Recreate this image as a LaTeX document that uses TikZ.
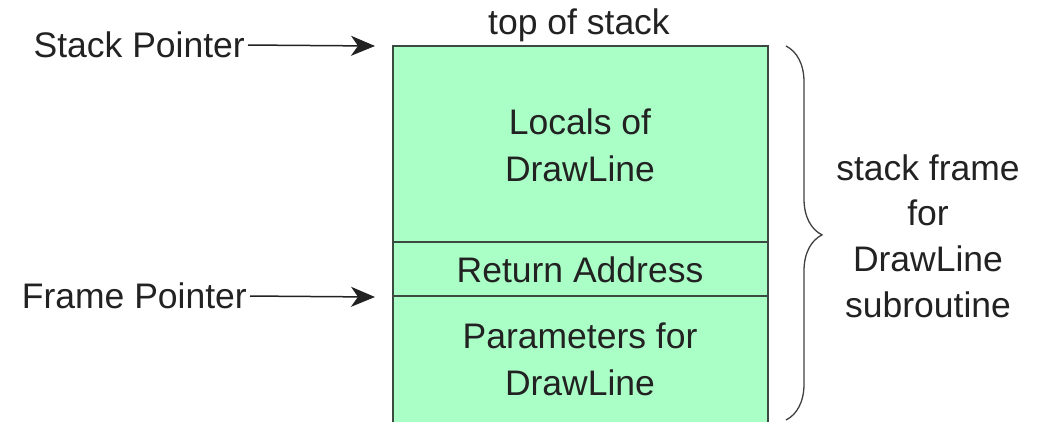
\documentclass[tikz,border=0pt]{standalone}
\usepackage{fontspec}
\setmainfont{Liberation Sans}
\usetikzlibrary{arrows.meta,decorations.pathreplacing}
\definecolor{cellfill}{HTML}{AAFFC6}
\definecolor{celledge}{HTML}{3A4A40}
\definecolor{ink}{HTML}{222222}
\tikzset{
  lbl/.style={font=\fontsize{35.5}{47}\selectfont, text=ink, inner sep=0pt, align=center},
  cell/.style={draw=celledge, line width=1.8pt, fill=cellfill},
  ptr/.style={-{Stealth[length=24pt,width=20pt,inset=7pt]}, line width=1.5pt, draw=ink, shorten >=1pt, shorten <=3pt},
  bracepath/.style={draw=black!75, line width=1.3pt, decorate,
    decoration={brace, amplitude=36pt, aspect=0.505}}
}
\begin{document}
\begin{tikzpicture}[x=1pt,y=-1pt]
  \useasboundingbox (0,0) rectangle (1044,421);
  % stack cells
  \path[cell] (393,46) rectangle (768,242);
  \path[cell] (393,242) rectangle (768,296);
  \path[cell] (393,296) rectangle (768,424);
  \node[lbl] (top) at (579,25) {top of stack};
  \node[lbl] (locals) at (580,145) {Locals of\\DrawLine};
  \node[lbl] (ret) at (580,270) {Return Address};
  \node[lbl] (params) at (580,359) {Parameters for\\DrawLine};
  % pointers
  \node[lbl, anchor=east] (sp) at (245,45) {Stack Pointer};
  \node[lbl, anchor=east] (fp) at (247,296) {Frame Pointer};
  \coordinate (spend) at (376,46);
  \coordinate (fpend) at (376,297);
  \draw[ptr] (sp.east) -- (spend);
  \draw[ptr] (fp.east) -- (fpend);
  % brace over the whole frame
  \coordinate (bt) at (786,46);
  \coordinate (bb) at (786,420);
  \draw[bracepath] (bt) -- (bb);
  \node[lbl, font=\fontsize{35.5}{45.7}\selectfont] (frame) at (928,236) {stack frame\\for\\DrawLine\\subroutine};
\end{tikzpicture}
\end{document}
